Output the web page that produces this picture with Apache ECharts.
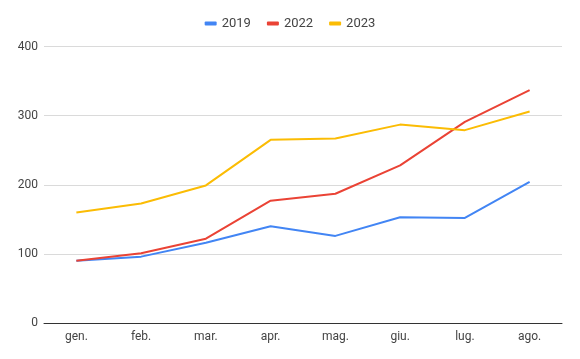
<!DOCTYPE html>
<html><head><meta charset="utf-8">
<script src="https://cdn.jsdelivr.net/npm/echarts@6/dist/echarts.min.js"></script>
<style>html,body{margin:0;padding:0;background:#fff}#c{width:580px;height:359px}</style>
</head><body><div id="c"></div>
<script>
const categories = ['gen.','feb.','mar.','apr.','mag.','giu.','lug.','ago.'];
const s2019 = [90, 96, 116, 140, 126, 153, 152, 204];
const s2022 = [90, 101, 122, 177, 187, 228, 291, 337];
const s2023 = [160, 173, 199, 265, 267, 287, 279, 306];
const yTicks = [0, 100, 200, 300, 400];
const names = ['2019','2022','2023'];
const colors = ['#4285F4','#EA4335','#FBBC04'];

const chart = echarts.init(document.getElementById('c'), null, {renderer:'canvas'});
const mk = (name, data, color) => ({
  name, type:'line', data, symbol:'none', smooth:false,
  lineStyle:{width:2, color}, itemStyle:{color}
});
chart.setOption({
  animation:false,
  textStyle:{fontFamily:'Roboto, Arial, sans-serif'},
  legend:{
    top:12, left:'center', itemWidth:12, itemHeight:4, itemGap:16,
    icon:'roundRect',
    textStyle:{fontSize:13, color:'#444', fontFamily:'Roboto, Arial, sans-serif'},
    data:names
  },
  grid:{left:44, right:18, top:46.5, bottom:36, containLabel:false},
  xAxis:{
    type:'category', data:categories, boundaryGap:true,
    axisLine:{lineStyle:{color:'#333', width:1}},
    axisTick:{show:false},
    axisLabel:{fontSize:12, color:'#444', margin:8}
  },
  yAxis:{
    type:'value', min:yTicks[0], max:yTicks[yTicks.length-1], interval:100,
    axisLine:{show:false}, axisTick:{show:false},
    axisLabel:{fontSize:12, color:'#444', margin:6},
    splitLine:{lineStyle:{color:'#dadada', width:1}}
  },
  series:[mk(names[0], s2019, colors[0]), mk(names[1], s2022, colors[1]), mk(names[2], s2023, colors[2])]
});
</script></body></html>
